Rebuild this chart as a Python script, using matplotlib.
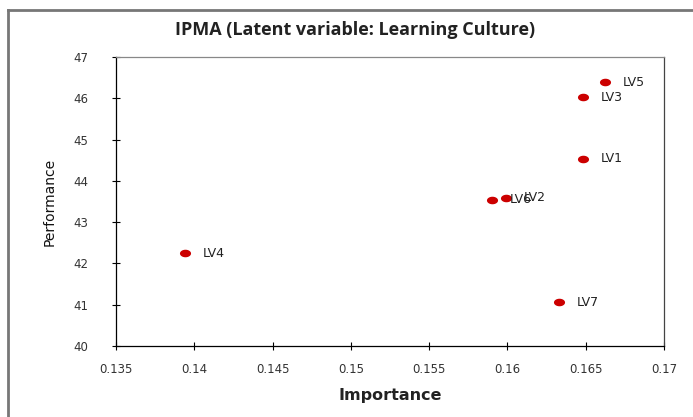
import numpy as np
import matplotlib.pyplot as plt
from matplotlib.lines import Line2D

# IPMA values
labels = ["LV1", "LV2", "LV3", "LV4", "LV5", "LV6", "LV7"]
importance = [0.1648, 0.1599, 0.1648, 0.1394, 0.1662, 0.1590, 0.1633]
performance = [44.53, 43.59, 46.03, 42.25, 46.39, 43.54, 41.06]

# slightly flattened dot, like the original Excel marker
t = np.linspace(0, 2 * np.pi, 40)
ellipse = list(zip(np.cos(t), 0.68 * np.sin(t)))

fig = plt.figure(figsize=(6.93, 4.17), dpi=100)
ax = fig.add_axes([116/693, 1 - 346/417, (664 - 116)/693, (346 - 57)/417])

ax.plot(importance, performance, marker=ellipse, color="#CC0000", markersize=8,
        markeredgewidth=0, linestyle="none")
for x, y, lab in zip(importance, performance, labels):
    ax.annotate(lab, (x, y), xytext=(13, 0), textcoords="offset points",
                va="center", ha="left", fontsize=9, color="#222222",
                family="DejaVu Sans")

ax.set_xlim(0.135, 0.17)
ax.set_ylim(40, 47)
ax.set_xticks([0.135, 0.14, 0.145, 0.15, 0.155, 0.16, 0.165, 0.17])
ax.set_xticklabels(["0.135", "0.14", "0.145", "0.15", "0.155", "0.16", "0.165", "0.17"])
ax.set_yticks(range(40, 48))
ax.tick_params(direction="inout", length=6, width=0.8, labelsize=8.5,
               labelcolor="#333333")
ax.tick_params(axis="x", pad=9)
ax.tick_params(axis="y", pad=17)

ax.spines["left"].set_color("black")
ax.spines["bottom"].set_color("black")
ax.spines["top"].set_color("#888888")
ax.spines["right"].set_color("#444444")
for s in ax.spines.values():
    s.set_linewidth(0.9)

ax.set_xlabel("Importance", fontsize=11.5, fontweight="bold", family="DejaVu Sans",
              color="#222222", labelpad=9)
ax.set_ylabel("Performance", fontsize=10, family="Liberation Sans Narrow",
              color="#111111", labelpad=12)

fig.text(355/693, 1 - 30/417, "IPMA (Latent variable: Learning Culture)",
         ha="center", va="center", fontsize=13, fontweight="bold",
         family="Open Sans", color="#222222")

# outer chart frame
fig.add_artist(Line2D([8/693, 8/693], [0, 1 - 10/417], transform=fig.transFigure,
                      color="#777777", linewidth=2))
fig.add_artist(Line2D([8/693, 1], [1 - 10/417, 1 - 10/417], transform=fig.transFigure,
                      color="#777777", linewidth=2))

fig.savefig("out.png", dpi=100)
